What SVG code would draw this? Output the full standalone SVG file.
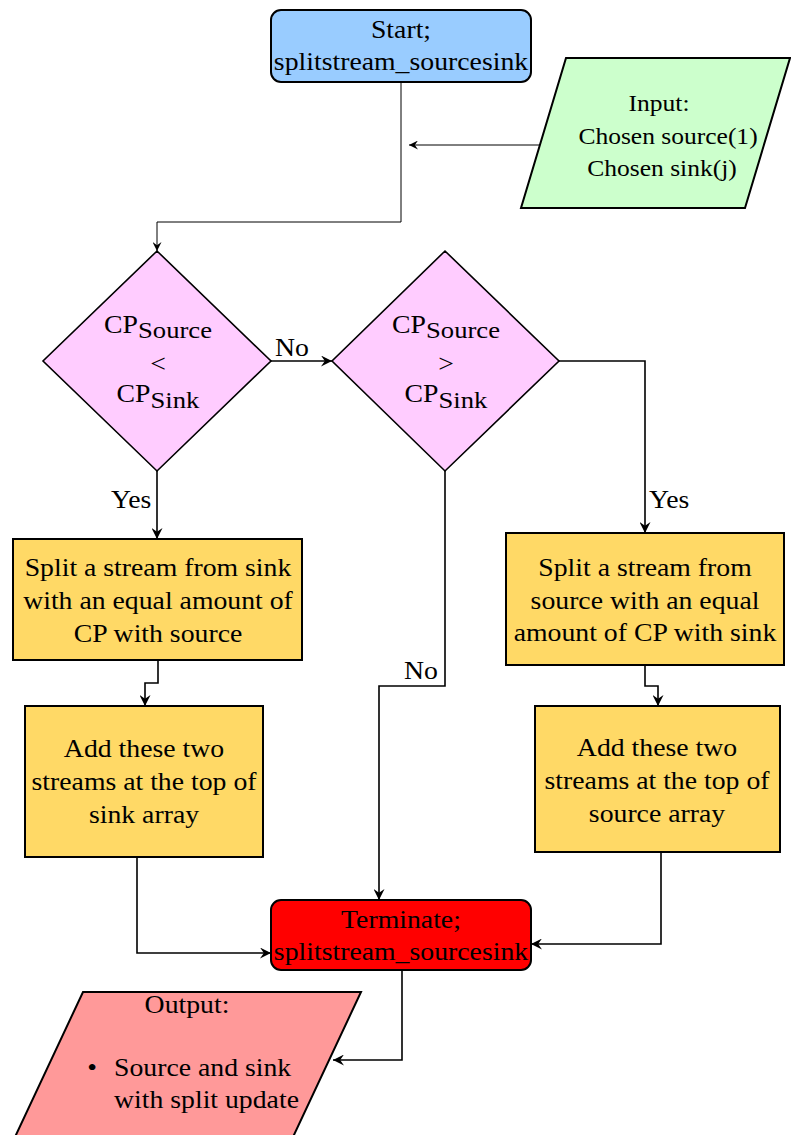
<svg xmlns="http://www.w3.org/2000/svg" width="791" height="1135" viewBox="0 0 791 1135">
  <style>
    .t { font-family: "Liberation Serif", "Times New Roman", serif; font-size: 25px; fill: #000; text-anchor: middle; }
    .s { font-family: "Liberation Serif", "Times New Roman", serif; font-size: 23px; fill: #000; text-anchor: middle; }
    .l { font-family: "Liberation Serif", "Times New Roman", serif; font-size: 25px; fill: #000; text-anchor: start; }
    .box { stroke: #000; stroke-width: 2; }
    .conn { fill: none; stroke: #000; stroke-width: 1.6; marker-end: url(#arrow); }
    .thin { fill: none; stroke: #000; stroke-width: 1; marker-end: url(#arrowThin); }
  </style>
  <defs>
    <marker id="arrow" viewBox="0 0 10 10" refX="10" refY="5" markerWidth="11" markerHeight="11" markerUnits="userSpaceOnUse" orient="auto">
      <path d="M0,0 L10,5 L0,10 L3.5,5 z" fill="#000"/>
    </marker>
    <marker id="arrowThin" viewBox="0 0 10 10" refX="10" refY="5" markerWidth="9" markerHeight="9" markerUnits="userSpaceOnUse" orient="auto">
      <path d="M0,0 L10,5 L0,10 L3.5,5 z" fill="#000"/>
    </marker>
  </defs>

  <!-- connectors -->
  <g id="connectors">
    <polyline class="thin" points="401,82 401,222 157,222 157,251"/>
    <polyline class="thin" points="545,145 409,145"/>
    <polyline class="conn" points="271,361 332,361"/>
    <polyline class="conn" points="157,471 157,539"/>
    <polyline class="conn" points="559,361 645,361 645,533"/>
    <polyline class="conn" points="445,471 445,686 379,686 379,900"/>
    <polyline class="conn" points="158,660 158,683 145,683 145,706"/>
    <polyline class="conn" points="645,665 645,686 658,686 658,706"/>
    <polyline class="conn" points="137,857 137,953 271,953"/>
    <polyline class="conn" points="661,852 661,944 531,944"/>
    <polyline class="conn" points="402,970 402,1060 333,1060"/>
    <text class="l" x="275" y="356" transform="translate(275 0) scale(1.11 1) translate(-275 0)">No</text>
    <text class="l" x="111" y="508" transform="translate(111 0) scale(1.11 1) translate(-111 0)">Yes</text>
    <text class="l" x="649" y="508" transform="translate(649 0) scale(1.11 1) translate(-649 0)">Yes</text>
    <text class="l" x="404" y="679" transform="translate(404 0) scale(1.11 1) translate(-404 0)">No</text>
  </g>

  <!-- start terminal -->
  <g id="start">
    <rect class="box" x="271" y="10" width="260" height="72" rx="10" fill="#99CCFF"/>
    <g transform="translate(401 0) scale(1.11 1)">
      <text class="t" x="0" y="38">Start;</text>
      <text class="t" x="0" y="70">splitstream_sourcesink</text>
    </g>
  </g>

  <!-- input -->
  <g id="input">
    <polygon class="box" points="566,58 790,58 745,208 521,208" fill="#CCFFCC"/>
    <g transform="translate(659 0) scale(1.11 1)">
      <text class="s" x="0" y="111">Input:</text>
    </g>
    <g transform="translate(668 0) scale(1.11 1)">
      <text class="s" x="0" y="144">Chosen source(1)</text>
    </g>
    <g transform="translate(662 0) scale(1.11 1)">
      <text class="s" x="0" y="176">Chosen sink(j)</text>
    </g>
  </g>

  <!-- decision: source below sink -->
  <g id="decision-lt">
    <polygon class="box" points="157,251 271,361 157,471 43,361" fill="#FFCCFF" style="stroke-width:1.6"/>
    <g transform="translate(158 0) scale(1.11 1)">
      <text class="t" x="0" y="333">CP<tspan font-size="24" dy="5">Source</tspan></text>
      <text class="t" x="0" y="372">&lt;</text>
      <text class="t" x="0" y="402">CP<tspan font-size="24" dy="6">Sink</tspan></text>
    </g>
  </g>

  <!-- decision: source above sink -->
  <g id="decision-gt">
    <polygon class="box" points="445,251 559,361 445,471 332,361" fill="#FFCCFF" style="stroke-width:1.6"/>
    <g transform="translate(446 0) scale(1.11 1)">
      <text class="t" x="0" y="333">CP<tspan font-size="24" dy="5">Source</tspan></text>
      <text class="t" x="0" y="372">&gt;</text>
      <text class="t" x="0" y="402">CP<tspan font-size="24" dy="6">Sink</tspan></text>
    </g>
  </g>

  <!-- split from sink -->
  <g id="split-sink">
    <rect class="box" x="13" y="539" width="289" height="121" fill="#FFD966"/>
    <g transform="translate(158 0) scale(1.11 1)">
      <text class="t" x="0" y="576">Split a stream from sink</text>
      <text class="t" x="0" y="609">with an equal amount of</text>
      <text class="t" x="0" y="642">CP with source</text>
    </g>
  </g>

  <!-- add to sink array -->
  <g id="add-sink">
    <rect class="box" x="25" y="706" width="238" height="151" fill="#FFD966"/>
    <g transform="translate(144 0) scale(1.11 1)">
      <text class="t" x="0" y="757">Add these two</text>
      <text class="t" x="0" y="790">streams at the top of</text>
      <text class="t" x="0" y="823">sink array</text>
    </g>
  </g>

  <!-- split from source -->
  <g id="split-source">
    <rect class="box" x="506" y="533" width="278" height="132" fill="#FFD966"/>
    <g transform="translate(645 0) scale(1.11 1)">
      <text class="t" x="0" y="576">Split a stream from</text>
      <text class="t" x="0" y="609">source with an equal</text>
      <text class="t" x="0" y="641">amount of CP with sink</text>
    </g>
  </g>

  <!-- add to source array -->
  <g id="add-source">
    <rect class="box" x="535" y="706" width="245" height="146" fill="#FFD966"/>
    <g transform="translate(657 0) scale(1.11 1)">
      <text class="t" x="0" y="756">Add these two</text>
      <text class="t" x="0" y="789">streams at the top of</text>
      <text class="t" x="0" y="822">source array</text>
    </g>
  </g>

  <!-- terminate -->
  <g id="terminate">
    <rect class="box" x="271" y="900" width="260" height="70" rx="10" fill="#FF0000"/>
    <g transform="translate(401 0) scale(1.11 1)">
      <text class="t" x="0" y="928">Terminate;</text>
      <text class="t" x="0" y="960">splitstream_sourcesink</text>
    </g>
  </g>

  <!-- output -->
  <g id="output">
    <polygon class="box" points="83,992 361,992 293,1137 15,1137" fill="#FF9999"/>
    <g transform="translate(187 0) scale(1.11 1)">
      <text class="t" x="0" y="1013">Output:</text>
    </g>
    <g transform="translate(114 0) scale(1.11 1)">
      <text class="l" x="-24" y="1076">•</text>
      <text class="l" x="0" y="1076">Source and sink</text>
      <text class="l" x="0" y="1108">with split update</text>
    </g>
  </g>
</svg>
